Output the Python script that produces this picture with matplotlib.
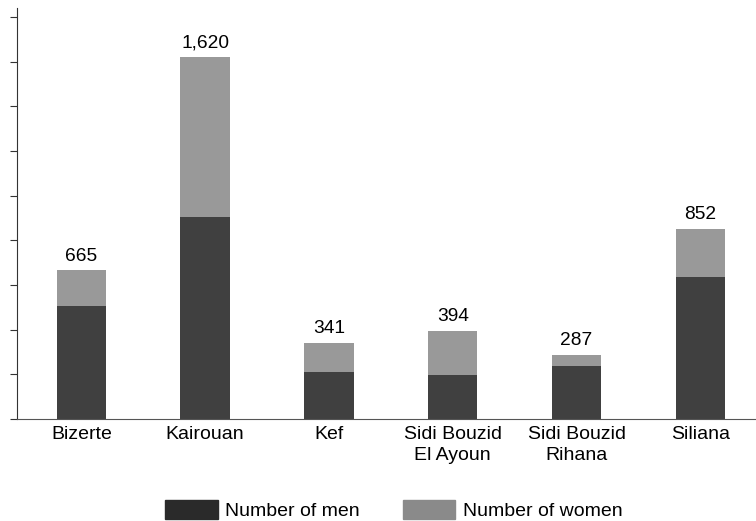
import matplotlib.pyplot as plt
from matplotlib.patches import Patch
import numpy as np

plt.rcParams['font.family'] = ['Liberation Sans', 'DejaVu Sans']

regions = ['Bizerte', 'Kairouan', 'Kef', 'Sidi Bouzid\nEl Ayoun', 'Sidi Bouzid\nRihana', 'Siliana']
men = [506, 905, 209, 197, 236, 635]
women = [159, 715, 132, 197, 51, 217]
totals = ['665', '1,620', '341', '394', '287', '852']

x = np.arange(len(regions))

fig = plt.figure(figsize=(7.56, 5.21), dpi=100)
ax = fig.add_axes([17/756, 1 - 419/521, 739/756, 411/521])

ax.bar(x, men, width=0.4, color='#404040')
ax.bar(x, women, width=0.4, bottom=men, color='#999999')

for i in range(len(x)):
    ax.text(x[i], men[i] + women[i] + 25, totals[i], ha='center', va='bottom', fontsize=13.8)

ax.set_xlim(-0.52, 5.45)
ax.set_ylim(0, 1840)
ax.set_yticks(np.arange(0, 1801, 200))
ax.set_yticklabels([])
ax.tick_params(axis='y', direction='out', length=5, width=0.8, color='#333333')
ax.set_xticks(x)
ax.set_xticklabels(regions, fontsize=14, linespacing=1.35)
ax.tick_params(axis='x', length=0, pad=5)
for s in ['top', 'right']:
    ax.spines[s].set_visible(False)
ax.spines['left'].set_color('#333333')
ax.spines['bottom'].set_color('#555555')

handles = [Patch(color='#2a2a2a', label='Number of men'),
           Patch(color='#8a8a8a', label='Number of women')]
fig.legend(handles=handles, loc='lower left', bbox_to_anchor=(165/756, 0.002), ncol=2,
           frameon=False, fontsize=14, handlelength=2.7, handleheight=1.15,
           columnspacing=2.2, handletextpad=0.4, borderpad=0, borderaxespad=0)

fig.savefig('out.png', dpi=100)
